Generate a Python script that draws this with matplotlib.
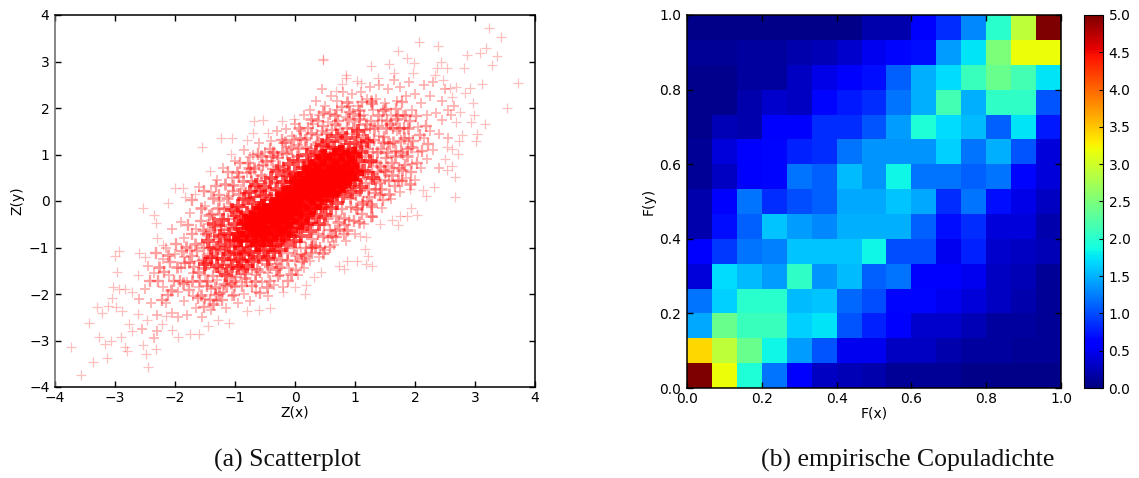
import matplotlib
matplotlib.use("Agg")
import matplotlib.pyplot as plt
import numpy as np

# scatter points: outer ones one by one, the dense part only roughly
outer_pts = [(3.24,3.71),(3.43,3.53),(2.06,3.43),(2.39,3.34),(3.19,3.28),(2.86,3.15),(3.09,3.18),(3.36,3.11),
    (1.72,3.23),(1.86,3.08),(1.98,2.97),(0.46,3.03),(0.47,3.05),(1.26,2.90),(1.57,2.94),(2.43,3.0),(3.29,2.92),
    (2.81,2.85),(2.53,2.85),(2.36,2.85),(2.34,2.7),(0.85,2.71),(0.85,2.65),(1.65,2.75),(1.96,2.75),(1.39,2.64),
    (1.03,2.57),(1.1,2.54),(0.78,2.51),(0.68,2.37),(3.72,2.54),(3.11,2.52),(2.92,2.42),(2.69,2.46),(2.58,2.42),
    (2.47,2.6),(3.54,1.99),(2.83,2.32),(2.61,2.24),(2.97,2.1),(2.75,1.91),(2.99,1.86),(2.93,1.69),(3.16,1.66),
    (2.68,1.69),(2.79,1.43),(3.04,1.45),(3.02,1.29),(2.74,1.28),(2.72,1.01),(2.61,1.12),(2.53,1.17),(2.5,0.9),
    (2.61,0.75),(2.54,0.67),(2.67,0.52),(2.66,0.09),(2.31,0.31),(2.13,0.24),(2.19,0.11),(1.92,0.25),
    (-3.56,-3.74),(-3.74,-3.14),(-3.37,-3.46),(-3.14,-3.38),(-3.26,-2.92),(-3.17,-3.07),(-3.07,-3.01),(-3.44,-2.62),
    (-3.3,-2.27),(-3.21,-2.4),(-3.11,-2.26),(-2.98,-2.29),(-2.89,-2.37),(-3.05,-2.08),(-3.03,-1.84),(-2.94,-1.9),
    (-2.83,-1.9),(-2.96,-1.53),(-3.0,-1.18),(-2.93,-1.08),(-2.9,-2.93),(-2.83,-3.13),(-2.8,-3.23),(-2.54,-0.14),
    (-2.45,-3.56),(-2.49,-3.29),(-2.54,-3.1),(-2.31,-3.18),(-2.35,-0.3),(-2.32,-0.47),
    (0.17,-2.0),(0.0,-1.84),(0.18,-1.81),(0.44,-1.53),(0.31,-1.63),(0.73,-1.4),(0.82,-1.47),(0.87,-1.29),(1.03,-1.28),
    (1.18,-1.36),(1.28,-1.39),(1.22,-1.18),(1.17,-1.03),(2.04,-0.31),(1.87,-0.32),(1.75,-0.32),(1.94,-0.14),(1.71,-0.52),
    (1.62,-0.41),(1.41,-0.5),(1.18,-0.77),(1.08,-0.75),
    (-1.55,1.17),(-1.24,1.35),(-1.05,1.35),(-0.68,1.71),(-0.53,1.74),(-0.22,1.71),(-0.01,1.76),(-0.7,1.46),(-0.45,1.46),
    (-0.8,1.31),(-1.07,1.01),(-1.42,0.65),(-2.0,0.29),(-1.87,0.29),(-1.83,0.08),(-2.11,-0.04),(-1.67,0.16),
    (-2.72,-1.95),(-2.62,-2.43),(-2.47,-2.55),(-2.76,-2.65),(-2.72,-2.8),(-2.21,-2.65),(-2.05,-2.78),(-1.95,-2.93),
    (-1.75,-2.87),(-1.6,-2.85),(-1.45,-2.68),(-1.1,-2.63),(-1.28,-2.55),(-0.8,-2.37),(-0.6,-2.35),(-0.42,-2.3),(-0.2,-1.96),
    (-2.15,-2.47),(-2.62,-1.6),(-2.6,-1.12),(-2.5,-1.2),(-2.3,-0.8),(-2.2,-0.95)]

band_pts = [(-2.5,-1.9),(-2.4,-2.2),(-2.35,-1.55),(-2.3,-2.45),(-2.2,-1.25),(-2.2,-1.85),(-2.15,-2.2),(-2.1,-1.6),(-2.05,-2.4),
    (-2.05,-0.6),(-2.0,-1.15),(-1.95,-1.95),(-1.95,-2.5),(-1.9,-0.45),(-1.9,-1.45),(-1.85,-2.15),(-1.85,-0.8),(-1.8,-1.75),
    (-1.8,-2.45),(-1.75,-1.05),(-1.75,-0.25),(-1.7,-1.55),(-1.7,-2.05),(-1.65,-2.3),(-1.65,-0.6),(-1.6,-1.3),(-1.6,-1.85),
    (-1.6,0.3),(-1.55,-0.9),(-1.55,-2.5),(-1.5,-0.1),(-1.5,-1.6),(-1.5,-2.1),(-1.45,-1.15),(-1.45,-0.5),(-1.4,-1.9),(-1.4,0.2),
    (-1.4,-2.35),(-1.35,-0.75),(-1.35,-1.45),(-1.3,-1.7),(-1.3,-2.15),(-1.3,0.45),(-1.25,-0.3),(-1.25,-1.05),(-1.2,-1.95),
    (-1.2,0.7),(-1.15,-1.3),(-1.15,-2.3),(-1.1,0.1),(-1.1,-0.55),(-1.1,-1.6),(-1.05,0.5),(-1.05,-2.05),(-1.0,0.85),(-1.0,-1.85),
    (-0.95,-1.15),(-0.95,-2.2),(-0.9,0.25),(-0.9,-1.5),(-0.85,1.1),(-0.85,-2.0),(-0.8,0.6),(-0.8,-1.75),(-0.75,-0.95),(-0.75,-2.15),
    (-0.7,1.0),(-0.7,0.3),(-0.65,-1.6),(-0.65,-1.95),(-0.6,0.75),(-0.6,1.25),(-0.55,-1.3),(-0.55,-1.75),(-0.5,0.5),(-0.5,1.05),
    (-0.45,-1.55),(-0.45,-2.05),(-0.4,1.3),(-0.4,0.85),(-0.35,-1.8),(-0.3,-1.35),(-0.3,1.5),(-0.3,1.0),(-0.25,-1.6),(-0.2,1.25),
    (-0.2,0.75),(-0.2,-1.85),(-0.15,1.55),(-0.1,-1.45),(-0.1,1.1),(-0.05,1.4),(0.0,-1.3),(0.0,1.65),(0.05,-1.6),(0.05,1.2),
    (0.1,1.5),(0.1,-1.15),(0.15,1.85),(0.15,-1.45),(0.2,1.35),(0.25,-1.3),(0.25,1.95),(0.3,1.65),(0.3,-0.95),(0.35,1.2),
    (0.35,2.15),(0.4,-1.2),(0.4,1.85),(0.45,1.5),(0.45,2.4),(0.5,-1.05),(0.5,2.05),(0.55,1.7),(0.55,-0.8),(0.6,2.25),(0.6,1.35),
    (0.65,-0.95),(0.7,1.95),(0.7,2.15),(0.75,-0.6),(0.75,1.55),(0.8,2.35),(0.85,-0.85),(0.85,1.8),(0.9,2.05),(0.9,-0.4),(0.95,1.45),
    (0.95,2.3),(1.0,-0.7),(1.0,1.7),(1.05,2.05),(1.05,-0.2),(1.1,2.35),(1.1,1.3),(1.15,-0.5),(1.15,1.85),(1.2,2.2),(1.2,0.0),
    (1.25,1.55),(1.25,2.45),(1.3,-0.35),(1.3,1.95),(1.35,2.2),(1.35,0.25),(1.4,1.4),(1.4,2.5),(1.45,-0.15),(1.45,1.75),(1.5,2.1),
    (1.5,0.45),(1.55,2.4),(1.55,1.25),(1.6,0.05),(1.6,1.85),(1.65,2.6),(1.65,0.7),(1.7,2.15),(1.7,1.5),(1.75,0.2),(1.75,2.45),
    (1.8,1.0),(1.8,1.85),(1.85,2.25),(1.85,0.5),(1.9,1.35),(1.9,2.55),(1.95,0.8),(1.95,1.95),(2.0,2.3),(2.0,0.45),(2.05,1.6),
    (2.05,1.05),(2.1,2.1),(2.1,0.7),(2.15,2.5),(2.15,1.35),(2.2,1.85),(2.2,0.9),(2.25,2.25),(2.25,1.5),(2.3,1.1),(2.3,2.55),
    (2.35,1.9),(2.4,0.7),(2.4,1.45),(2.45,2.15),(2.45,1.75),(2.5,2.4),(2.55,1.95),(2.55,1.35),(2.6,1.85),(2.65,2.05),(-2.45,-1.4),
    (-2.6,-2.1),(-2.55,-2.75),(-2.3,-2.8),(-2.35,-2.95),(-2.15,-1.0),(-1.85,-1.2),(-1.25,0.0),(-0.75,0.95),(1.3,1.05),(1.55,0.75)]

fill_pts = [(-1.92,-1.72),(-1.83,-1.33),(-1.77,-1.92),(-1.72,-0.72),(-1.68,-1.42),(-1.63,-1.07),(-1.58,-1.71),(-1.57,-0.42),(-1.53,-1.27),
    (-1.48,-0.72),(-1.47,-1.83),(-1.42,-1.02),(-1.38,-0.28),(-1.37,-1.62),(-1.33,-0.55),(-1.32,-2.02),(-1.28,-1.22),(-1.27,0.12),(-1.23,-0.62),
    (-1.22,-1.53),(-1.18,-0.18),(-1.17,-1.07),(-1.13,-1.82),(-1.12,-0.38),(-1.08,-0.83),(-1.07,-1.27),(-1.03,0.22),(-1.02,-0.32),(-0.98,-1.63),
    (-0.97,-0.58),(-0.93,0.52),(-0.92,-1.22),(-0.88,-0.12),(-0.87,-0.78),(-0.83,-1.58),(-0.82,0.18),(-0.78,-1.08),(-0.77,-0.33),(-0.73,0.62),
    (-0.72,-1.47),(-0.68,-0.62),(-0.67,0.08),(-0.63,-1.12),(-0.62,0.42),(-0.58,-1.53),(-0.57,-0.48),(-0.53,0.78),(-0.52,-0.78),(-0.48,0.12),
    (-0.47,-1.18),(-0.43,0.38),(-0.42,-1.42),(-0.38,-0.28),(-0.37,0.68),(-0.33,-1.22),(-0.32,0.12),(-0.28,0.92),(-0.27,-0.72),(-0.23,0.22),
    (-0.22,-1.27),(-0.18,0.72),(-0.17,-0.42),(-0.13,1.02),(-0.12,-1.12),(-0.08,0.52),(-0.07,-0.58),(-0.03,0.88),(-0.02,-1.02),(0.02,0.38),
    (0.03,-0.32),(0.07,1.12),(0.08,-0.88),(0.12,0.68),(0.13,-0.12),(0.17,1.32),(0.18,-1.02),(0.22,0.32),(0.23,-0.38),(0.27,1.12),(0.28,-0.82),
    (0.32,0.78),(0.33,-0.18),(0.37,1.42),(0.38,-0.72),(0.42,0.98),(0.43,0.02),(0.47,1.62),(0.48,-0.52),(0.52,1.18),(0.53,-0.12),(0.57,0.82),
    (0.58,-0.62),(0.62,1.52),(0.63,0.02),(0.67,1.02),(0.68,-0.32),(0.72,1.72),(0.73,0.22),(0.77,1.28),(0.78,-0.18),(0.82,0.78),(0.83,-0.52),
    (0.87,1.58),(0.88,0.28),(0.92,1.22),(0.93,-0.12),(0.97,1.88),(0.98,0.72),(1.02,0.12),(1.03,1.42),(1.07,0.48),(1.08,1.82),(1.12,0.82),
    (1.13,-0.02),(1.17,1.52),(1.18,0.38),(1.22,1.12),(1.23,0.08),(1.27,1.72),(1.28,0.58),(1.32,1.32),(1.33,0.18),(1.37,0.82),(1.38,1.62),
    (1.42,0.38),(1.43,1.12),(1.47,0.02),(1.48,1.38),(1.52,0.92),(1.53,1.72),(1.57,0.42),(1.58,1.22),(1.62,0.82),(1.63,1.58),(1.67,0.32),
    (1.68,1.08),(1.72,1.82),(1.73,0.72),(1.77,1.28),(1.78,0.42),(1.82,1.58),(1.83,0.78),(1.88,1.12),(1.92,1.72),(1.93,0.62),(1.97,1.28),
    (2.02,1.82),(2.03,0.82),(2.08,1.42),(2.12,1.08),(2.18,1.62),(2.22,1.22),(-2.12,-2.02),(-2.08,-1.32),(-2.02,-1.72),(-1.98,-0.92),(-2.28,-1.72),
    (-2.22,-2.12),(-2.42,-1.72),(-2.32,-1.12),(-2.18,-1.52),(-1.88,-1.08),(-1.78,-0.52),(-1.72,-1.18),(-1.62,-2.08),(-1.52,-2.28),(-1.42,-2.12),
    (-1.22,-2.12),(-1.02,-2.02),(-0.88,-1.82),(-0.72,-1.82),(-0.58,-1.98),(-0.42,-1.72),(-0.28,-1.62),(-0.12,-1.72),(0.02,-1.48),(0.12,-1.32),
    (0.28,-1.12),(0.42,-1.02),(0.58,-0.98),(0.68,-0.78),(0.82,-0.72),(0.98,-0.42),(1.12,-0.28),(1.28,-0.12),(1.42,0.12),(-1.72,0.02),(-1.52,0.22),
    (-1.32,0.32),(-1.12,0.62),(-0.92,0.82),(-0.78,0.82),(-0.62,1.02),(-0.42,1.12),(-0.22,1.32),(-0.02,1.32),(0.22,1.58),(0.38,1.72),(0.58,1.88),
    (0.78,2.02),(0.92,1.92),(1.12,2.12),(1.28,2.08),(1.52,1.98),(1.68,1.98),(1.78,2.12),(-1.08,-0.12),(-0.92,-0.28),(-0.72,-0.18),(-0.58,0.22),
    (-0.42,-0.08),(-0.22,-0.62),(-0.08,0.22),(0.08,0.52),(0.22,0.88),(0.38,0.22),(0.52,0.48),(0.68,0.42),(0.82,0.98),(0.98,1.02),(1.12,1.18),
    (-0.12,-0.32),(-0.32,-0.48),(-0.52,-0.18),(-0.72,-0.88),(-0.88,-0.52),(-1.02,-0.98),(-1.18,-0.72),(-1.28,-0.82),(-1.38,-1.22),(-1.52,-1.02),
    (0.12,0.32),(0.28,0.52),(0.48,0.18),(0.62,0.72),(0.78,0.52),(0.92,0.42),(1.08,0.22),(1.22,0.62),(1.38,0.62),(1.52,0.62),(1.02,0.68),(0.88,0.62)]

# second pass over the busy region, the sides of the cloud are thick with marks too
dense_pts = [(-1.76,-1.31),(-1.66,-0.92),(-1.61,-1.52),(-1.54,-0.62),(-1.51,-1.44),(-1.46,-1.73),(-1.44,-0.31),(-1.41,-0.66),(-1.36,-1.04),(-1.34,-1.86),
    (-1.29,-0.16),(-1.26,-1.44),(-1.24,-0.52),(-1.19,-1.78),(-1.16,-0.86),(-1.14,0.06),(-1.11,-1.44),(-1.06,-0.61),(-1.04,0.34),(-1.01,-1.71),
    (-0.99,-0.24),(-0.96,-1.24),(-0.94,0.14),(-0.91,-0.66),(-0.86,0.44),(-0.84,-1.66),(-0.81,-0.44),(-0.79,0.04),(-0.76,-1.24),(-0.74,0.44),
    (-0.71,-0.86),(-0.69,0.72),(-0.66,-0.26),(-0.64,-1.46),(-0.61,0.22),(-0.59,-0.76),(-0.56,0.56),(-0.54,-1.06),(-0.51,-0.06),(-0.49,0.86),
    (-0.46,-1.36),(-0.44,0.24),(-0.41,-0.56),(-0.39,0.96),(-0.36,-0.96),(-0.34,0.44),(-0.31,-1.46),(-0.29,0.04),(-0.26,0.76),(-0.24,-0.86),
    (-0.21,1.06),(-0.19,-0.16),(-0.16,0.36),(-0.14,-1.26),(-0.11,0.64),(-0.09,-0.46),(-0.06,1.16),(-0.04,-0.76),(-0.01,0.46),(0.01,-1.16),
    (0.04,0.96),(0.06,-0.06),(0.09,1.36),(0.11,-0.56),(0.14,0.54),(0.16,-1.16),(0.19,1.16),(0.21,-0.26),(0.24,0.66),(0.26,1.46),(0.29,-0.46),
    (0.31,0.96),(0.34,-0.96),(0.36,0.66),(0.39,1.26),(0.41,-0.16),(0.44,0.36),(0.46,-0.76),(0.49,1.06),(0.51,1.46),(0.54,-0.36),(0.56,0.46),
    (0.59,1.16),(0.61,-0.76),(0.64,0.86),(0.66,1.66),(0.69,0.16),(0.71,-0.46),(0.74,1.16),(0.76,0.66),(0.79,1.46),(0.81,-0.36),(0.84,0.26),
    (0.86,1.06),(0.89,1.76),(0.91,0.06),(0.94,0.86),(0.96,1.56),(0.99,0.36),(1.01,-0.16),(1.04,1.16),(1.06,1.76),(1.09,0.66),(1.11,-0.06),
    (1.14,1.36),(1.16,0.96),(1.19,1.66),(1.21,0.26),(1.24,1.26),(1.26,-0.06),(1.29,0.86),(1.31,1.56),(1.34,0.46),(1.36,1.06),(1.39,1.86),
    (1.41,0.76),(1.44,0.26),(1.46,1.26),(1.49,0.66),(1.51,1.56),(1.54,1.06),(1.56,0.16),(1.59,1.66),(1.61,0.56),(1.64,1.26),(1.66,0.96),
    (1.69,1.76),(1.71,0.46),(1.74,1.56),(1.76,1.06),(1.79,0.66),(1.81,1.36),(1.84,1.86),(1.86,0.96),(1.89,1.56),(1.91,0.36),(1.94,1.16),
    (-2.06,-1.92),(-1.96,-1.42),(-1.86,-1.76),(-1.81,-0.98),(-2.26,-1.42),(-2.11,-1.16),(-1.71,-1.71),(-1.56,-2.02),(-1.46,-1.32),(-1.36,-2.22),
    (-1.26,-1.98),(-1.06,-1.76),(-0.86,-1.46),(-0.66,-1.72),(-0.46,-1.86),(-0.26,-1.42),(-0.06,-1.56),(0.14,-1.22),(0.26,-0.98),(0.46,-1.12),
    (0.66,-0.62),(0.86,-0.62),(1.06,-0.46),(1.26,-0.32),(0.06,1.56),(0.26,1.76),(0.46,1.92),(0.66,1.86),(0.86,2.12),(1.06,1.96),(1.26,2.16),
    (1.46,1.96),(-0.16,1.26),(-0.36,1.06),(-0.56,0.96),(-0.76,0.72),(-0.96,0.62),(-1.16,0.36),(-1.36,0.06),(-1.56,-0.16)]

# centre of the cloud, here the picture is solid red
solid_pts = [(-0.92,-0.82),(-0.84,-0.46),(-0.78,-0.72),(-0.72,-0.36),(-0.66,-0.66),(-0.62,-0.92),(-0.58,-0.42),(-0.54,-0.68),(-0.5,-0.22),(-0.46,-0.52),
    (-0.42,-0.82),(-0.38,-0.12),(-0.36,-0.38),(-0.33,-0.66),(-0.28,0.02),(-0.26,-0.28),(-0.24,-0.52),(-0.2,-0.72),(-0.16,0.14),(-0.14,-0.14),
    (-0.12,-0.42),(-0.08,-0.62),(-0.04,0.28),(-0.02,-0.08),(0.0,-0.32),(0.04,0.46),(0.06,0.16),(0.08,-0.18),(0.1,-0.46),(0.14,0.32),(0.16,0.58),
    (0.18,0.04),(0.2,-0.28),(0.24,0.42),(0.26,0.72),(0.28,0.1),(0.3,-0.12),(0.34,0.54),(0.36,0.28),(0.38,0.84),(0.4,-0.02),(0.44,0.46),(0.46,0.7),
    (0.48,0.94),(0.5,0.14),(0.54,0.38),(0.56,0.8),(0.58,0.6),(0.6,0.16),(0.64,0.48),(0.66,0.96),(0.68,0.72),(0.7,0.28),(0.74,0.56),(0.76,1.04),
    (0.78,0.8),(0.8,0.34),(0.84,0.62),(0.86,0.92),(0.9,0.5),(0.94,0.76),(0.98,0.98),(1.02,0.6),(-0.3,-0.2),(-0.1,0.02),(0.02,0.12),(0.12,0.2),
    (0.2,0.26),(0.32,0.22),(0.42,0.16),(-0.2,-0.1),(-0.4,-0.3),(-0.5,-0.4),(-0.6,-0.6),(-0.7,-0.5),(0.1,0.3),(0.22,0.48),(0.36,0.6),(0.5,0.44),
    (0.62,0.36),(0.72,0.46),(0.82,0.52),(-0.06,-0.24),(-0.16,-0.3),(-0.26,-0.42),(-0.44,-0.24),(-0.54,-0.12),(-0.64,-0.28)]

core_pts = [(-1.5,-1.35),(-1.45,-0.85),(-1.4,-1.2),(-1.35,-0.5),(-1.3,-1.0),(-1.3,-1.4),(-1.25,-0.75),(-1.2,-1.25),(-1.2,-0.4),
    (-1.15,-0.95),(-1.15,-1.6),(-1.1,-0.7),(-1.1,-1.15),(-1.05,-0.2),(-1.05,-1.4),(-1.0,-0.85),(-1.0,-0.5),(-1.0,-1.1),(-0.95,-1.45),
    (-0.95,-0.1),(-0.95,-0.7),(-0.9,-1.0),(-0.9,-0.35),(-0.9,-1.3),(-0.85,-0.6),(-0.85,0.05),(-0.85,-1.15),(-0.8,-0.85),(-0.8,-0.25),
    (-0.8,-1.4),(-0.75,-0.5),(-0.75,0.2),(-0.75,-1.1),(-0.7,-0.75),(-0.7,-0.05),(-0.7,-1.3),(-0.65,-0.4),(-0.65,-0.95),(-0.65,0.35),
    (-0.6,-0.65),(-0.6,-0.15),(-0.6,-1.2),(-0.55,-0.85),(-0.55,0.1),(-0.55,-0.35),(-0.5,-1.05),(-0.5,-0.55),(-0.5,0.3),(-0.45,-0.2),
    (-0.45,-0.75),(-0.45,-1.25),(-0.4,0.05),(-0.4,-0.45),(-0.4,-0.95),(-0.4,0.5),(-0.35,-0.65),(-0.35,-0.15),(-0.35,-1.1),(-0.3,0.25),
    (-0.3,-0.4),(-0.3,-0.85),(-0.3,0.65),(-0.25,-0.05),(-0.25,-0.6),(-0.25,-1.05),(-0.2,0.4),(-0.2,-0.3),(-0.2,-0.8),(-0.2,0.1),
    (-0.15,-0.5),(-0.15,0.55),(-0.15,-0.95),(-0.1,0.2),(-0.1,-0.2),(-0.1,-0.7),(-0.1,0.8),(-0.05,0.4),(-0.05,-0.4),(-0.05,0.0),
    (0.0,-0.85),(0.0,0.6),(0.0,-0.15),(0.0,0.25),(0.05,-0.55),(0.05,0.85),(0.05,0.1),(0.1,-0.3),(0.1,0.45),(0.1,-0.75),(0.15,0.7),
    (0.15,0.0),(0.15,0.25),(0.2,-0.5),(0.2,1.0),(0.2,0.5),(0.25,-0.15),(0.25,0.8),(0.25,-0.65),(0.3,0.3),(0.3,0.05),(0.3,0.6),
    (0.35,-0.35),(0.35,1.05),(0.35,0.45),(0.4,0.15),(0.4,0.8),(0.4,-0.5),(0.45,0.55),(0.45,-0.1),(0.45,1.2),(0.5,0.3),(0.5,0.95),
    (0.5,-0.3),(0.55,0.65),(0.55,0.1),(0.55,1.3),(0.6,0.4),(0.6,-0.15),(0.6,0.9),(0.65,0.7),(0.65,0.2),(0.65,1.15),(0.7,0.5),
    (0.7,-0.05),(0.7,1.4),(0.75,0.85),(0.75,0.3),(0.8,1.1),(0.8,0.6),(0.8,0.1),(0.85,1.35),(0.85,0.4),(0.9,0.8),(0.9,1.05),
    (0.95,0.2),(0.95,0.6),(1.0,1.25),(1.0,0.45),(1.05,0.85),(1.05,1.5),(1.1,0.3),(1.1,1.05),(1.15,0.65),(1.2,1.3),(1.25,0.85),
    (1.3,0.5),(-0.02,0.02),(0.12,0.12),(0.22,0.18),(0.32,0.42),(0.42,0.33),(-0.12,-0.12),(-0.22,-0.18),(-0.32,-0.28),(-0.42,-0.32),
    (-0.52,-0.42),(-0.62,-0.52),(0.52,0.52),(0.62,0.58),(0.72,0.68),(-0.08,0.12),(0.08,-0.08),(0.18,0.38),(0.28,0.18),(-0.18,0.02),
    (-0.28,-0.08),(0.38,0.62),(-0.38,-0.58),(0.48,0.72),(-0.48,-0.68),(0.58,0.28),(-0.58,-0.28)]

# copula density, rows from F(y)=0 upwards
dichte_row_01 = [5.0,3.2,1.95,1.2,.55,.3,.25,.2,.1,.1,.1,.05,.05,.05,.05]
dichte_row_02 = [3.4,2.9,2.4,1.85,1.4,1.05,.5,.5,.3,.3,.2,.15,.15,.1,.1]
dichte_row_03 = [1.45,2.4,2.1,2.1,1.65,1.75,1.05,.8,.55,.35,.35,.25,.15,.15,.1]
dichte_row_04 = [1.2,1.65,2.0,2.0,1.55,1.6,1.15,1.0,.65,.65,.5,.4,.3,.2,.1]
dichte_row_05 = [.4,1.7,1.55,1.4,2.05,1.35,1.55,1.1,1.2,.6,.6,.5,.3,.25,.1]
dichte_row_06 = [.55,.9,1.2,1.25,1.6,1.6,1.6,1.85,1.0,1.0,.5,.8,.35,.3,.25]
dichte_row_07 = [.2,.7,1.1,1.6,1.4,1.3,1.5,1.5,1.5,1.1,.7,.85,.4,.4,.2]
dichte_row_08 = [.2,.55,1.2,.85,1.0,1.1,1.45,1.45,1.6,1.45,.85,1.2,.7,.45,.3]
dichte_row_09 = [.1,.3,.55,.65,1.2,1.1,1.55,1.35,1.85,1.2,1.2,1.1,1.2,.65,.4]
dichte_row_10 = [.1,.4,.55,.65,.8,.85,1.2,1.35,1.35,1.35,1.65,1.2,1.5,1.05,.4]
dichte_row_11 = [.07,.25,.2,.55,.55,.85,.85,1.05,1.4,1.95,1.7,1.55,1.1,1.75,.75]
dichte_row_12 = [.07,.07,.2,.35,.3,.65,.75,.85,1.2,1.5,2.15,1.5,2.05,2.05,1.05]
dichte_row_13 = [.07,.07,.15,.15,.3,.45,.55,.7,1.1,1.5,1.7,2.1,2.4,2.15,1.75]
dichte_row_14 = [.1,.1,.15,.15,.2,.25,.35,.5,.65,.7,1.4,1.75,2.5,3.2,3.2]
dichte_row_15 = [.05,.05,.05,.05,.05,.05,.05,.2,.2,.55,.85,1.3,2.0,2.9,5.0]
dichte = np.array([dichte_row_01, dichte_row_02, dichte_row_03, dichte_row_04, dichte_row_05,
                   dichte_row_06, dichte_row_07, dichte_row_08, dichte_row_09, dichte_row_10,
                   dichte_row_11, dichte_row_12, dichte_row_13, dichte_row_14, dichte_row_15])

scatter_ticks = [-4, -3, -2, -1, 0, 1, 2, 3, 4]
copula_ticks = [0.0, 0.2, 0.4, 0.6, 0.8, 1.0]
cbar_ticks = [0.0, 0.5, 1.0, 1.5, 2.0, 2.5, 3.0, 3.5, 4.0, 4.5, 5.0]

W, H = 1139.0, 478.0
def box(x0, y0, x1, y1):
    # pixel box (top left origin) to figure fractions
    return [x0 / W, 1 - y1 / H, (x1 - x0) / W, (y1 - y0) / H]

plt.rcParams['font.size'] = 10
fig = plt.figure(figsize=(W / 100, H / 100), dpi=100)

ax1 = fig.add_axes(box(55, 15, 535, 387))
layers = [(outer_pts, 0.25, 0.9, 7), (band_pts, 0.3, 1.3, 7), (fill_pts, 0.38, 1.7, 8),
          (dense_pts, 0.4, 2.0, 8), (core_pts, 0.65, 2.8, 10), (solid_pts, 0.85, 4.5, 11)]
for pts, a, mew, ms in layers:
    xs = [p[0] for p in pts]
    ys = [p[1] for p in pts]
    ax1.plot(xs, ys, '+', color='red', alpha=a, ms=ms, mew=mew)
ax1.set_xlim(-4, 4)
ax1.set_ylim(-4, 4)
ax1.set_xticks(scatter_ticks)
ax1.set_yticks(scatter_ticks)
ax1.set_xlabel("Z(x)", labelpad=0)
ax1.set_ylabel("Z(y)", labelpad=3)
ax1.spines['left'].set_color('#666666')

ax2 = fig.add_axes(box(687, 15, 1061, 388))
im = ax2.imshow(dichte, origin='lower', extent=[0, 1, 0, 1], cmap='jet', vmin=0, vmax=5,
                interpolation='nearest', aspect='auto')
ax2.set_xticks(copula_ticks)
ax2.set_yticks(copula_ticks)
ax2.set_xlabel("F(x)", labelpad=0)
ax2.set_ylabel("F(y)", labelpad=3)

for ax in (ax1, ax2):
    ax.tick_params(direction='in', length=4, width=1, top=True, right=True)
    ax.tick_params(axis='x', pad=3)
    ax.tick_params(axis='y', pad=4)
    for s in ax.spines.values():
        s.set_linewidth(1.1)

cax = fig.add_axes(box(1084, 15, 1103, 388))
cb = fig.colorbar(im, cax=cax, ticks=cbar_ticks)
cb.ax.tick_params(direction='in', length=3, width=0.8, pad=4)
cb.outline.set_linewidth(0.8)

fig.text(287 / W, 1 - 460 / H, "(a) Scatterplot", family='Liberation Serif', fontsize=18.5, ha='center', va='center', color='#111111')
fig.text(908 / W, 1 - 460 / H, "(b) empirische Copuladichte", family='Liberation Serif', fontsize=18.5, ha='center', va='center', color='#111111')

fig.savefig("out.png", dpi=100)
